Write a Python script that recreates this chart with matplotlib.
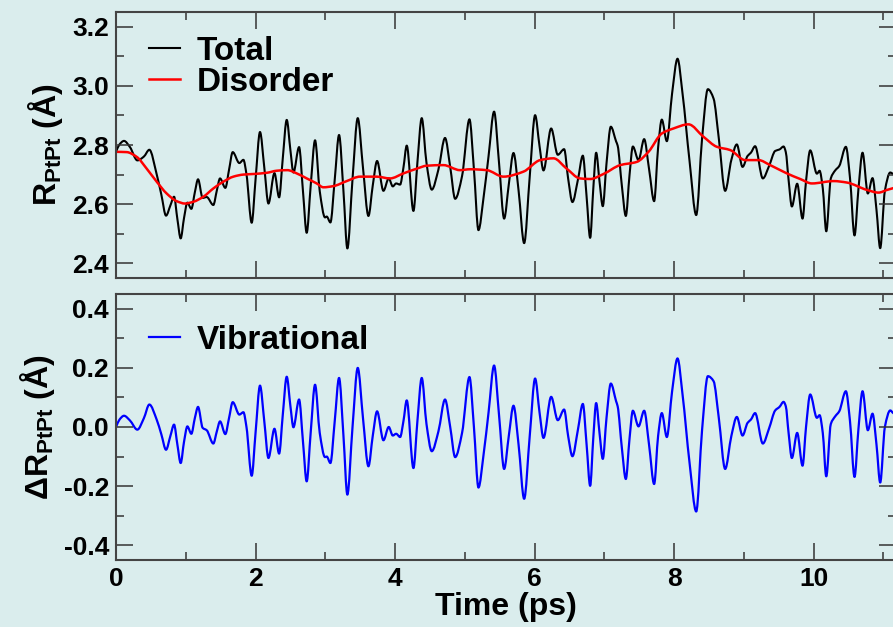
import matplotlib
matplotlib.use('Agg')
import matplotlib.pyplot as plt
from matplotlib.ticker import MultipleLocator, FormatStrFormatter
from matplotlib.path import Path
from matplotlib.patches import PathPatch
from matplotlib.lines import Line2D

# time axis (ps) shared by the total and vibrational curves
time = [0.000, 0.05, 0.115, 0.20, 0.306, 0.40, 0.478, 0.583, 0.65, 0.717,
        0.78, 0.832, 0.88, 0.927, 0.975, 1.023, 1.08, 1.13, 1.176, 1.242,
        1.30, 1.395, 1.445, 1.491, 1.567, 1.62, 1.673, 1.768, 1.826, 1.87,
        1.945, 2.00, 2.064, 2.125, 2.185, 2.271, 2.338, 2.39, 2.447, 2.50,
        2.543, 2.624, 2.68, 2.733, 2.79, 2.853, 2.92, 2.996, 3.02, 3.073,
        3.135, 3.197, 3.26, 3.316, 3.39, 3.465, 3.54, 3.618, 3.68, 3.742,
        3.833, 3.909, 3.967, 4.015, 4.072, 4.12, 4.167, 4.263, 4.32, 4.382,
        4.45, 4.526, 4.621, 4.716, 4.79, 4.861, 4.96, 5.066, 5.13, 5.195,
        5.27, 5.34, 5.419, 5.49, 5.563, 5.63, 5.697, 5.77, 5.85, 5.93,
        6.007, 6.07, 6.127, 6.237, 6.332, 6.423, 6.48, 6.542, 6.62, 6.691,
        6.745, 6.796, 6.84, 6.882, 6.93, 6.977, 7.03, 7.092, 7.168, 7.19,
        7.25, 7.307, 7.36, 7.408, 7.489, 7.570, 7.64, 7.713, 7.77, 7.823,
        7.895, 7.97, 8.048, 8.12, 8.22, 8.316, 8.40, 8.483, 8.565, 8.64,
        8.731, 8.82, 8.898, 8.98, 9.052, 9.10, 9.16, 9.271, 9.36, 9.448,
        9.51, 9.568, 9.60, 9.64, 9.687, 9.763, 9.84, 9.89, 9.95, 10.046,
        10.084, 10.13, 10.18, 10.245, 10.308, 10.366, 10.461, 10.52, 10.585, 10.64,
        10.700, 10.776, 10.843, 10.90, 10.953, 11.02, 11.097, 11.14, 11.2]

total = [2.777, 2.802, 2.814, 2.793, 2.748, 2.761, 2.784, 2.701, 2.632, 2.561,
         2.596, 2.625, 2.549, 2.484, 2.553, 2.605, 2.584, 2.640, 2.684, 2.621,
         2.624, 2.597, 2.646, 2.687, 2.655, 2.716, 2.776, 2.739, 2.750, 2.701,
         2.537, 2.683, 2.844, 2.725, 2.602, 2.705, 2.623, 2.754, 2.885, 2.782,
         2.707, 2.793, 2.643, 2.503, 2.661, 2.816, 2.644, 2.555, 2.558, 2.538,
         2.683, 2.834, 2.644, 2.450, 2.685, 2.891, 2.723, 2.560, 2.663, 2.746,
         2.645, 2.687, 2.660, 2.670, 2.666, 2.724, 2.798, 2.577, 2.741, 2.891,
         2.740, 2.649, 2.717, 2.824, 2.726, 2.618, 2.695, 2.887, 2.718, 2.512,
         2.626, 2.763, 2.913, 2.739, 2.551, 2.667, 2.773, 2.646, 2.468, 2.694,
         2.901, 2.797, 2.714, 2.856, 2.767, 2.786, 2.687, 2.607, 2.682, 2.764,
         2.625, 2.486, 2.649, 2.774, 2.677, 2.593, 2.737, 2.862, 2.812, 2.798,
         2.663, 2.560, 2.698, 2.795, 2.749, 2.820, 2.719, 2.610, 2.792, 2.886,
         2.813, 2.974, 3.092, 2.974, 2.747, 2.563, 2.822, 2.989, 2.957, 2.822,
         2.645, 2.750, 2.802, 2.726, 2.763, 2.774, 2.796, 2.687, 2.729, 2.780,
         2.785, 2.795, 2.776, 2.682, 2.592, 2.669, 2.551, 2.678, 2.782, 2.703,
         2.713, 2.654, 2.508, 2.687, 2.714, 2.729, 2.794, 2.689, 2.494, 2.648,
         2.774, 2.636, 2.688, 2.580, 2.451, 2.645, 2.707, 2.702, 2.698]

vibrational = [0.000, 0.025, 0.038, 0.022, -0.009, 0.030, 0.076, 0.025, -0.025, -0.077,
               -0.030, 0.008, -0.060, -0.122, -0.050, 0.002, -0.023, 0.030, 0.068, -0.003,
               -0.011, -0.056, -0.015, 0.019, -0.024, 0.030, 0.084, 0.042, 0.050, 0.000,
               -0.165, -0.020, 0.140, 0.020, -0.105, -0.006, -0.090, 0.040, 0.170, 0.070,
               -0.001, 0.093, -0.050, -0.184, -0.020, 0.143, -0.020, -0.102, -0.100, -0.122,
               0.020, 0.166, -0.030, -0.229, 0.000, 0.200, 0.030, -0.133, -0.030, 0.053,
               -0.045, 0.000, -0.029, -0.023, -0.034, 0.020, 0.090, -0.139, 0.020, 0.166,
               0.010, -0.082, -0.015, 0.093, 0.000, -0.102, -0.020, 0.169, 0.000, -0.205,
               -0.090, 0.050, 0.208, 0.040, -0.142, -0.030, 0.072, -0.060, -0.243, -0.030,
               0.164, 0.050, -0.037, 0.102, 0.023, 0.059, -0.030, -0.099, -0.010, 0.078,
               -0.060, -0.199, -0.040, 0.081, -0.020, -0.108, 0.030, 0.147, 0.087, 0.070,
               -0.070, -0.176, -0.040, 0.055, 0.002, 0.055, -0.060, -0.193, -0.030, 0.047,
               -0.034, 0.120, 0.232, 0.110, -0.120, -0.286, -0.010, 0.172, 0.155, 0.030,
               -0.142, -0.030, 0.034, -0.029, 0.014, 0.025, 0.047, -0.056, -0.005, 0.056,
               0.068, 0.085, 0.070, -0.020, -0.105, -0.020, -0.131, 0.000, 0.110, 0.031,
               0.040, -0.020, -0.167, 0.010, 0.036, 0.053, 0.121, 0.020, -0.169, -0.010,
               0.121, -0.011, 0.045, -0.060, -0.188, 0.000, 0.056, 0.047, 0.040]

# the smooth disorder curve, read on its own coarser grid
disorder_time = [0.0, 0.153, 0.296, 0.44, 0.583, 0.726, 0.87, 0.989, 1.109, 1.252,
                 1.395, 1.539, 1.682, 1.826, 1.969, 2.16, 2.303, 2.456, 2.59, 2.734,
                 2.877, 2.972, 3.116, 3.307, 3.498, 3.737, 3.928, 4.12, 4.31, 4.454,
                 4.693, 4.93, 5.075, 5.314, 5.553, 5.84, 6.08, 6.27, 6.46, 6.65,
                 6.796, 6.987, 7.226, 7.465, 7.632, 7.823, 7.99, 8.205, 8.42, 8.612,
                 8.803, 9.018, 9.209, 9.376, 9.615, 9.807, 9.974, 10.285, 10.476, 10.763,
                 10.93, 11.05, 11.2]
disorder = [2.777, 2.776, 2.760, 2.720, 2.676, 2.636, 2.610, 2.602, 2.608, 2.625,
            2.653, 2.676, 2.693, 2.700, 2.702, 2.706, 2.713, 2.715, 2.704, 2.687,
            2.670, 2.657, 2.661, 2.678, 2.693, 2.693, 2.687, 2.704, 2.720, 2.730,
            2.732, 2.715, 2.718, 2.715, 2.693, 2.710, 2.749, 2.755, 2.720, 2.687,
            2.685, 2.702, 2.732, 2.743, 2.777, 2.839, 2.856, 2.870, 2.828, 2.794,
            2.783, 2.749, 2.749, 2.732, 2.704, 2.685, 2.670, 2.678, 2.673, 2.648,
            2.639, 2.648, 2.658]

bg = '#daeded'
plt.rcParams['font.family'] = ['Liberation Sans', 'DejaVu Sans']
plt.rcParams['font.weight'] = 'bold'
plt.rcParams['axes.labelweight'] = 'bold'
plt.rcParams['mathtext.fontset'] = 'custom'
plt.rcParams['mathtext.bf'] = 'Liberation Sans:bold'
plt.rcParams['mathtext.rm'] = 'Liberation Sans:bold'


def smooth_path(x, y):
	# cubic bezier segments through the read points (pchip-like tangents,
	# flat at the peaks) so the trace is drawn smooth rather than as a zigzag
	n = len(x)
	h = [x[i + 1] - x[i] for i in range(n - 1)]
	d = [(y[i + 1] - y[i]) / h[i] for i in range(n - 1)]
	m = [0.0] * n
	m[0] = d[0]
	m[-1] = d[-1]
	for i in range(1, n - 1):
		if d[i - 1] * d[i] <= 0:
			m[i] = 0.0
		else:
			w1 = 2 * h[i] + h[i - 1]
			w2 = h[i] + 2 * h[i - 1]
			m[i] = (w1 + w2) / (w1 / d[i - 1] + w2 / d[i])
	verts = [(x[0], y[0])]
	codes = [Path.MOVETO]
	for i in range(n - 1):
		verts.append((x[i] + h[i] / 3, y[i] + m[i] * h[i] / 3))
		verts.append((x[i + 1] - h[i] / 3, y[i + 1] - m[i + 1] * h[i] / 3))
		verts.append((x[i + 1], y[i + 1]))
		codes += [Path.CURVE4] * 3
	return Path(verts, codes)


def draw_trace(ax, x, y, color, lw):
	ax.add_patch(PathPatch(smooth_path(x, y), facecolor='none', edgecolor=color,
	                       lw=lw, joinstyle='round', capstyle='round'))
	return Line2D([], [], color=color, lw=lw)


def style_axes(ax, ymin, ymax):
	ax.set_facecolor(bg)
	ax.set_xlim(0, 11.18)
	ax.set_ylim(ymin, ymax)
	ax.xaxis.set_major_locator(MultipleLocator(2))
	ax.xaxis.set_minor_locator(MultipleLocator(1))
	ax.yaxis.set_major_locator(MultipleLocator(0.2))
	ax.yaxis.set_minor_locator(MultipleLocator(0.1))
	ax.yaxis.set_major_formatter(FormatStrFormatter('%.1f'))
	ax.tick_params(which='both', direction='in', top=True, right=True,
	               width=1.1, color='#333333', labelsize=19, pad=5)
	ax.tick_params(which='major', length=12)
	ax.tick_params(which='minor', length=6)
	for s in ax.spines.values():
		s.set_linewidth(1.5)
		s.set_color('#444444')


fig = plt.figure(figsize=(8.93, 6.27), dpi=100, facecolor=bg)
ax1 = fig.add_axes([0.1299, 0.5566, 0.8735, 0.4242])
ax2 = fig.add_axes([0.1299, 0.1069, 0.8735, 0.4242])

legend_kw = dict(loc='upper left', frameon=False, fontsize=24, handlelength=0.93,
                 handletextpad=0.52, labelspacing=0.0, borderpad=0, borderaxespad=0)

h_total = draw_trace(ax1, time, total, 'black', 1.5)
h_dis = draw_trace(ax1, disorder_time, disorder, '#ff0000', 1.8)
style_axes(ax1, 2.35, 3.25)
ax1.tick_params(labelbottom=False)
ax1.set_ylabel(r'$\mathbf{R_{PtPt}}$ (Å)', fontsize=23, labelpad=5)
ax1.legend([h_total, h_dis], ['Total', 'Disorder'], bbox_to_anchor=(0.042, 0.91), **legend_kw)

h_vib = draw_trace(ax2, time, vibrational, '#0000ff', 1.6)
style_axes(ax2, -0.45, 0.45)
ax2.set_ylabel(r'$\mathbf{\Delta R_{PtPt}}$ (Å)', fontsize=23, labelpad=5)
ax2.set_xlabel('Time (ps)', fontsize=23, labelpad=1)
ax2.legend([h_vib], ['Vibrational'], bbox_to_anchor=(0.042, 0.885), **legend_kw)

fig.savefig('out.png', dpi=100, facecolor=bg)
